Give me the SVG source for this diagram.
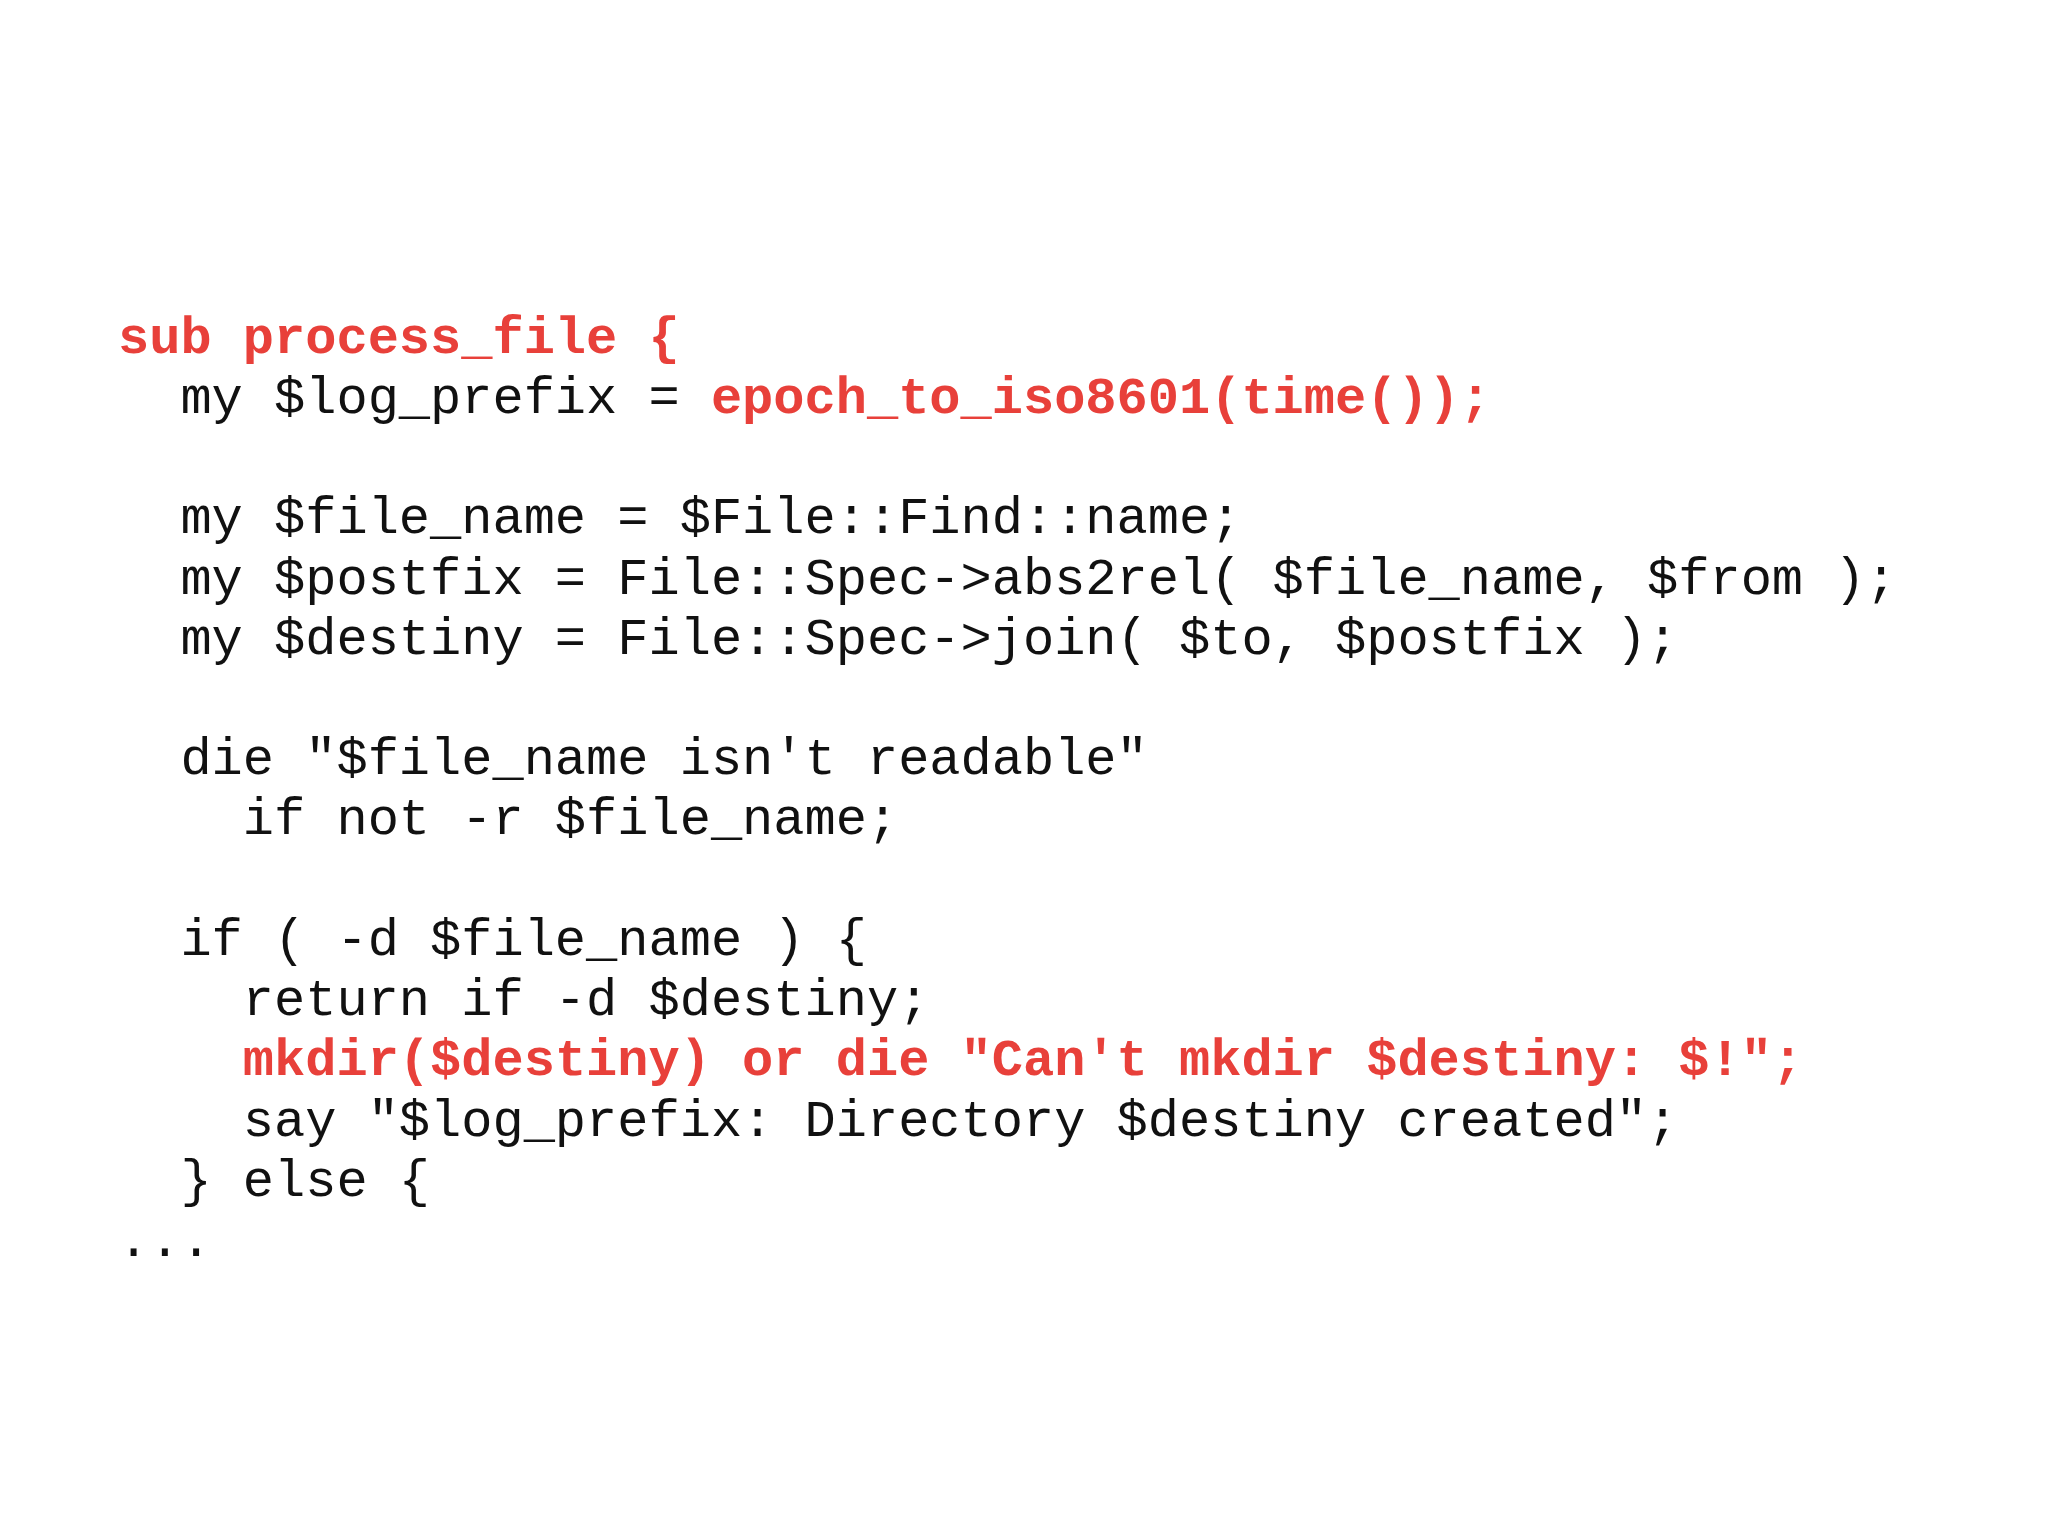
<svg xmlns="http://www.w3.org/2000/svg" width="2048" height="1535" viewBox="0 0 2048 1535">
<style>
text{font-family:"Liberation Mono","Courier New",monospace;font-size:52px;fill:#111;white-space:pre}
.r{fill:#e8403a;font-weight:bold}
</style>
<rect width="2048" height="1535" fill="#fff"/>
<g id="code" xml:space="preserve">
<text x="118" y="353" class="r">sub process_file {</text>
<text x="118" y="413">  my $log_prefix = <tspan class="r">epoch_to_iso8601(time());</tspan></text>
<text x="118" y="533">  my $file_name = $File::Find::name;</text>
<text x="118" y="594">  my $postfix = File::Spec-&gt;abs2rel( $file_name, $from );</text>
<text x="118" y="654">  my $destiny = File::Spec-&gt;join( $to, $postfix );</text>
<text x="118" y="774">  die "$file_name isn't readable"</text>
<text x="118" y="834">    if not -r $file_name;</text>
<text x="118" y="955">  if ( -d $file_name ) {</text>
<text x="118" y="1015">    return if -d $destiny;</text>
<text x="118" y="1075">    <tspan class="r">mkdir($destiny) or die "Can't mkdir $destiny: $!";</tspan></text>
<text x="118" y="1136">    say "$log_prefix: Directory $destiny created";</text>
<text x="118" y="1196">  } else {</text>
<text x="118" y="1256">...</text>
</g>
</svg>
